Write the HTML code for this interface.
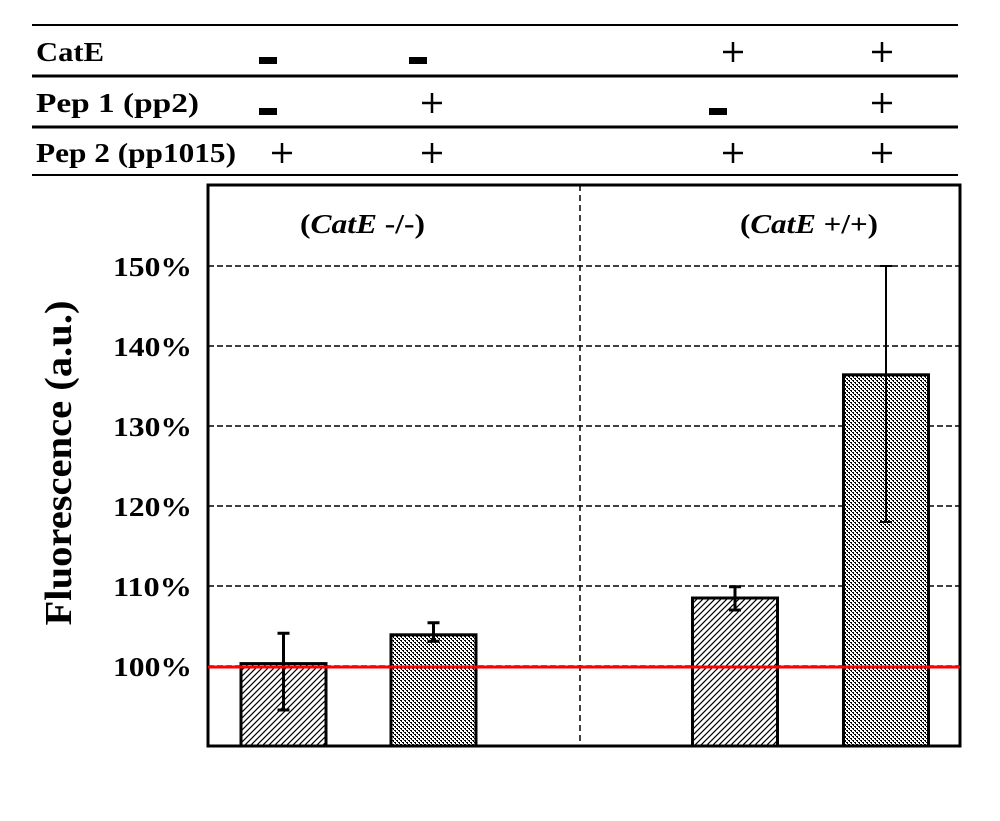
<!DOCTYPE html>
<html><head><meta charset="utf-8"><style>
body{margin:0;background:#fff;}
svg text{font-family:"Liberation Serif",serif;font-weight:bold;fill:#000;}
</style></head><body>
<svg width="1000" height="816" viewBox="0 0 1000 816">
<defs>
<pattern id="hatch" width="6" height="6" patternUnits="userSpaceOnUse">
<rect width="6" height="6" fill="#fff"/>
<path d="M-1,7 L7,-1 M-1,1 L1,-1 M5,7 L7,5" stroke="#000" stroke-width="1.2"/>
</pattern>
<pattern id="dots" width="4" height="4" patternUnits="userSpaceOnUse">
<rect width="4" height="4" fill="#fff"/>
<rect x="0" y="0" width="2" height="1" fill="#000"/>
<rect x="2" y="2" width="2" height="1" fill="#000"/>
<rect x="1" y="1" width="1" height="1" fill="#000"/>
<rect x="3" y="3" width="1" height="1" fill="#000"/>
</pattern>
</defs>
<g>
<line x1="32" y1="25" x2="958" y2="25" stroke="#000" stroke-width="2"/>
<line x1="32" y1="76" x2="958" y2="76" stroke="#000" stroke-width="3"/>
<line x1="32" y1="127" x2="958" y2="127" stroke="#000" stroke-width="3"/>
<line x1="32" y1="175" x2="958" y2="175" stroke="#000" stroke-width="2"/>
<text x="36" y="61" font-size="27" textLength="68" lengthAdjust="spacingAndGlyphs">CatE</text>
<text x="36" y="112" font-size="27" textLength="163" lengthAdjust="spacingAndGlyphs">Pep 1 (pp2)</text>
<text x="36" y="162" font-size="27" textLength="200" lengthAdjust="spacingAndGlyphs">Pep 2 (pp1015)</text>
</g>
<g id="signs"></g>
<g id="plot"></g>
<text transform="translate(71,463) rotate(-90)" text-anchor="middle" font-size="38" textLength="325" lengthAdjust="spacingAndGlyphs">Fluorescence (a.u.)</text>
</svg>
<script>
const categories=["CatE-/- Pep2","CatE-/- Pep1+Pep2","CatE+/+ Pep2","CatE+/+ Pep1+Pep2"];
const values=[100.3,103.9,108.5,136.4];
const errLow=[94.5,103.1,107.0,118.0];
const errHigh=[104.1,105.4,109.9,150.0];
const catE=["-","-","+","+"];
const pep1=["-","+","-","+"];
const pep2=["+","+","+","+"];
const ticks=[100,110,120,130,140,150];
const tickLabels=["100%","110%","120%","130%","140%","150%"];
const groupLabels=["-/-","+/+"];
const NS="http://www.w3.org/2000/svg";
const L=208,R=960,T=185,B=746;
const y=v=>666-(v-100)*8;
const barCenters=[283.5,433.5,735,886];
const bw=85;
function mk(p,tag,a){const e=document.createElementNS(NS,tag);for(const k in a)e.setAttribute(k,a[k]);p.appendChild(e);return e;}
const plot=document.getElementById('plot');
const fr=mk(plot,'rect',{x:L,y:T,width:R-L,height:B-T,fill:'#fff',stroke:'#000','stroke-width':3});


ticks.forEach((t,i)=>{
 const g=mk(plot,'line',{x1:L,x2:R,y1:y(t),y2:y(t),stroke:'#000','stroke-width':1.5,'stroke-dasharray':'6,3'});
 
 
 const tx=mk(plot,'text',{x:113,y:y(t)+10,'font-size':27,textLength:79,lengthAdjust:'spacingAndGlyphs'});
 tx.textContent=tickLabels[i];
 
 
});
const dv=mk(plot,'line',{x1:580,x2:580,y1:T,y2:B,stroke:'#000','stroke-width':1.5,'stroke-dasharray':'6,4'});


[[300,0],[740,1]].forEach(([x0,i])=>{
 const t=mk(plot,'text',{x:x0,y:233,'font-size':27,textLength:i?138:125,lengthAdjust:'spacingAndGlyphs'});
 t.innerHTML='(<tspan font-style="italic">CatE</tspan> '+groupLabels[i]+')';
 
 
});
values.forEach((v,i)=>{
 const cx=barCenters[i];
 const b=mk(plot,'rect',{x:cx-bw/2,y:y(v),width:bw,height:B-y(v),fill:i%2?'url(#dots)':'url(#hatch)',stroke:'#000','stroke-width':3});
 
 
 const e=mk(plot,'path',{d:`M${cx},${y(errLow[i])}V${y(errHigh[i])}M${cx-6},${y(errLow[i])}h12M${cx-6},${y(errHigh[i])}h12`,stroke:'#000','stroke-width':i==3?2:3,fill:'none'});
 
 
});
const rl=mk(plot,'line',{x1:L,x2:R,y1:y(100)+1,y2:y(100)+1,stroke:'#f00','stroke-width':3});


const signs=document.getElementById('signs');
[[catE,52],[pep1,103],[pep2,153]].forEach(([arr,yy],r)=>{
 arr.forEach((s,i)=>{
  let cx=[268,418,733,882][i];
  if(r==2&&i==0)cx=282;
  if(r>=1&&i==1)cx=432;
  if(r==1&&i==2)cx=718;
  let el;
  if(s=='-'){el=mk(signs,'rect',{x:cx-9,y:yy+5,width:18,height:7,fill:'#000'});}
  else{el=mk(signs,'path',{d:`M${cx-10},${yy}h20M${cx},${yy-10}v20`,stroke:'#000','stroke-width':2.5});}
  
  
 });
});
</script>
</body></html>
